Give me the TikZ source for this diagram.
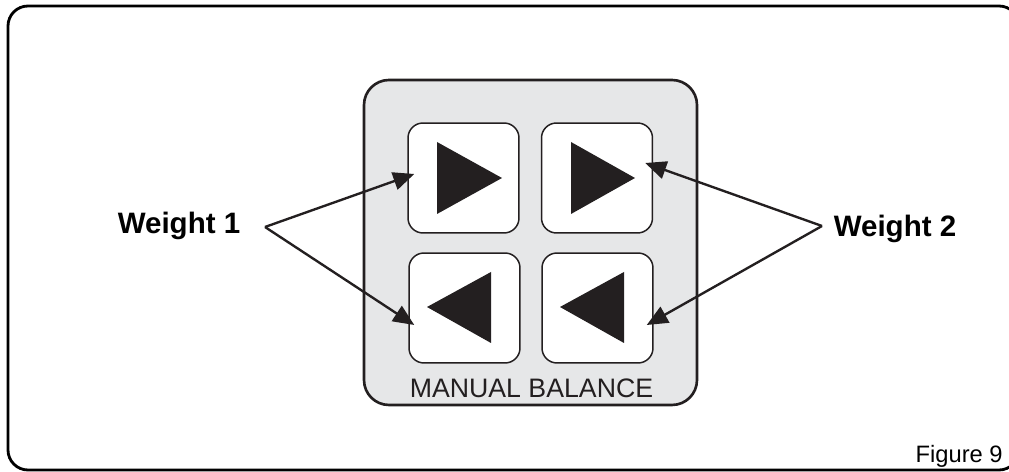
\documentclass[tikz,border=0pt]{standalone}
\usepackage{fontspec}
\setmainfont{Liberation Sans}
\usepackage{tikz}
\usetikzlibrary{arrows.meta}
\usetikzlibrary{positioning}
\usetikzlibrary{calc}
\definecolor{panelgrey}{RGB}{230,231,232}
\definecolor{inkblack}{RGB}{35,31,32}

\tikzset{
  frame/.style={draw=black, line width=1.6pt, rounded corners=0.4cm},
  panel/.style={draw=inkblack, fill=panelgrey, line width=1.5pt, rounded corners=0.5cm},
  button/.style={draw=inkblack, fill=white, line width=0.85pt, rounded corners=0.3cm,
    minimum width=2.22cm, minimum height=2.2cm, inner sep=0pt},
  pointer/.style={draw=inkblack, line width=1.35pt, -{Triangle[length=0.42cm, width=0.36cm]}},
  weightlabel/.style={font=\fontsize{16.8}{20}\selectfont\bfseries, anchor=base, inner sep=0pt}
}

\begin{document}
\begin{tikzpicture}[x=0.02cm, y=-0.02cm]
  \useasboundingbox (0,0) rectangle (1009,472);
  \draw[frame] (8,6) rectangle (1019,470);

  % panel with the four buttons
  \draw[panel] (364,80) rectangle (697,405);
  \node[button] (upA) at (463.5,178) {};
  \node[button] (upB) at (597,178) {};
  \node[button] (downA) at (464.5,308) {};
  \node[button] (downB) at (597.5,308) {};

  \fill[inkblack, shift={(upA.center)}] (-26.5,-36) -- (38.5,0) -- (-26.5,36) -- cycle;
  \fill[inkblack, shift={(upB.center)}] (-26,-36) -- (38,0) -- (-26,36) -- cycle;
  \fill[inkblack, shift={(downA.center)}] (26.5,-36) -- (-37.5,-1) -- (26.5,35) -- cycle;
  \fill[inkblack, shift={(downB.center)}] (26.5,-36) -- (-37.5,-1) -- (26.5,35) -- cycle;

  \node[anchor=base, inner sep=0pt, font=\fontsize{15.2}{18}\selectfont, text=inkblack]
    (title) at (531.5,398) {MANUAL BALANCE};

  % labels and pointers
  \node[weightlabel] (w1) at (179,234) {Weight 1};
  \node[weightlabel] (w2) at (895,237) {Weight 2};
  \coordinate (w1apex) at (265,227);
  \coordinate (w2apex) at (822,226);

  \draw[pointer] (w1apex) -- ([xshift=0.14cm, yshift=0.08cm]upA.west);
  \draw[pointer] (w1apex) -- ([xshift=0.12cm, yshift=-0.34cm]downA.west);
  \draw[pointer] (w2apex) -- ([xshift=-0.16cm, yshift=0.3cm]upB.east);
  \draw[pointer] (w2apex) -- ([xshift=-0.14cm, yshift=-0.34cm]downB.east);

  \node[anchor=base east, inner sep=0pt, font=\fontsize{13.5}{16}\selectfont] (fig) at (1003,463) {Figure 9};
\end{tikzpicture}
\end{document}
